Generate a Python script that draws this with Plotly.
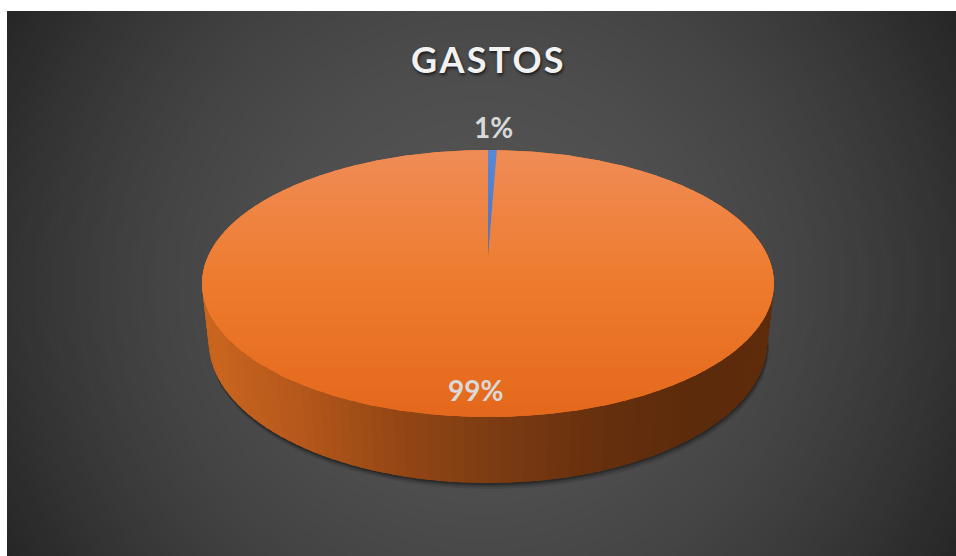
import math
import plotly.graph_objects as go

# ---------------- data ----------------
title_text = "GASTOS"
categories = ["Gasto 1", "Gasto 2"]
values = [0.6, 99.4]
slice_colors = ["#4472C4", "#ED7D31"]

# ---------------- style / geometry ----------------
W, H = 956, 556
ML, MT = 7, 11             # white border left / top of the chart area
CX, CY = 488.0, 258.0      # projected centre of the pie top
AX, BY = 280.7, 128.6      # projected radii
PERSP = 0.191              # perspective strength
DEPTH_Y = 58.6             # thickness (vertical)
DEPTH_D = 0.023            # thickness (perspective)

# top face gradient (top, middle, bottom) per slice
top_grad = [
    [(150, (88, 136, 216)), (283, (68, 114, 196)), (417, (56, 96, 176))],
    [(150, (239, 140, 86)), (283, (238, 123, 45)), (417, (228, 104, 27))],
]
# side shading multipliers across the width (per channel)
side_mult = [(0.0, (0.86, 0.82, 0.64)), (0.17, (0.76, 0.70, 0.55)),
             (0.35, (0.62, 0.56, 0.42)), (0.5, (0.53, 0.48, 0.37)),
             (0.7, (0.43, 0.38, 0.28)), (0.87, (0.385, 0.34, 0.22)),
             (1.0, (0.40, 0.35, 0.23))]


def hex2rgb(h):
    h = h.lstrip("#")
    return tuple(int(h[i:i + 2], 16) for i in (0, 2, 4))


def rgbstr(c, a=None):
    c = tuple(max(0, min(255, int(round(v)))) for v in c)
    if a is None:
        return "rgb(%d,%d,%d)" % c
    return "rgba(%d,%d,%d,%.3f)" % (c + (a,))


def interp(stops, t):
    if t <= stops[0][0]:
        return stops[0][1]
    for (t0, c0), (t1, c1) in zip(stops, stops[1:]):
        if t <= t1:
            f = (t - t0) / (t1 - t0)
            return tuple(a + (b - a) * f for a, b in zip(c0, c1))
    return stops[-1][1]


def proj(r, phi, z):
    u = -r * math.cos(phi)
    xs = r * math.sin(phi)
    den = 1 - PERSP * u + DEPTH_D * z
    return CX + AX * xs / den, CY + (BY * u + DEPTH_Y * z) / den


def clip_y(pts, yv, keep_above):
    out = []
    n = len(pts)
    for i in range(n):
        P = pts[i]
        Q = pts[(i + 1) % n]
        pin = P[1] >= yv if keep_above else P[1] <= yv
        qin = Q[1] >= yv if keep_above else Q[1] <= yv
        if pin:
            out.append(P)
        if pin != qin:
            t = (yv - P[1]) / (Q[1] - P[1])
            out.append((P[0] + t * (Q[0] - P[0]), yv))
    return out


fig = go.Figure()


def add_poly(pts, color):
    xs = [p[0] for p in pts] + [pts[0][0]]
    ys = [p[1] for p in pts] + [pts[0][1]]
    fig.add_trace(go.Scatter(x=xs, y=ys, mode="lines", fill="toself",
                             fillcolor=color, line=dict(width=0, color=color),
                             hoverinfo="skip", showlegend=False))


total = float(sum(values))
bounds = []
acc = 0.0
for v in values:
    a0 = 2 * math.pi * acc / total
    acc += v
    a1 = 2 * math.pi * acc / total
    bounds.append((a0, a1))


def slice_at(phi):
    phi = phi % (2 * math.pi)
    for i, (a0, a1) in enumerate(bounds):
        if a0 <= phi < a1:
            return i
    return len(bounds) - 1


# ---- shadow under the pie ----
bottom = [proj(1, 2 * math.pi * k / 240, 1) for k in range(240)]
for off, alpha in [(6, 0.10), (4, 0.16), (2, 0.25)]:
    add_poly([(x + off * 0.3, y + off) for x, y in bottom], "rgba(0,0,0,%.2f)" % alpha)

# ---- side (walls) ----
deg = math.pi / 180
phis = [60 * deg + k * 2 * deg for k in range(121)]
xl, xr = CX - AX * 1.02, CX + AX * 1.02
side_outline = [proj(1, p, 0) for p in phis] + [proj(1, p, 1) for p in reversed(phis)]
base_mid = hex2rgb(slice_colors[slice_at(math.pi)])
add_poly(side_outline, rgbstr(tuple(b * m for b, m in zip(base_mid, interp(side_mult, 0.5)))))
for p0, p1 in zip(phis, phis[1:]):
    pm = 0.5 * (p0 + p1)
    idx = slice_at(pm)
    xm = proj(1, pm, 0)[0]
    frac = (xm - xl) / (xr - xl)
    mult = interp(side_mult, frac)
    col = rgbstr(tuple(b * m for b, m in zip(hex2rgb(slice_colors[idx]), mult)))
    q1 = p1 + 0.6 * deg
    pts = [proj(1, p0, 0), proj(1, q1, 0), proj(1, q1, 1), proj(1, p0, 1)]
    add_poly(pts, col)

# ---- top face ----
for i, (a0, a1) in enumerate(bounds):
    n = max(3, int((a1 - a0) / deg) + 2)
    arc = [proj(1, a0 + (a1 - a0) * k / (n - 1), 0) for k in range(n)]
    poly = [proj(0, 0, 0)] + arc
    add_poly(poly, rgbstr(interp(top_grad[i], 283)))
    ys = [p[1] for p in poly]
    y0 = min(ys)
    ymax = max(ys)
    step = 5.0
    while y0 < ymax:
        band = clip_y(clip_y(poly, y0, True), y0 + step + 1.0, False)
        if len(band) >= 3:
            add_poly(band, rgbstr(interp(top_grad[i], y0 + step / 2)))
        y0 += step

# ---- background radial gradient ----
shapes = []
BGX, BGY = 482.0, 284.0
r = 580
while r > 0:
    lv = 84 - 46 * (r / 548.0) ** 2
    lv = max(36, lv)
    shapes.append(dict(type="circle", xref="x", yref="y", layer="below",
                       x0=BGX - r, x1=BGX + r, y0=BGY - r, y1=BGY + r,
                       fillcolor=rgbstr((lv, lv, lv)), line=dict(width=0)))
    r -= 6

# ---- labels ----
annotations = []
for i, ((a0, a1), v) in enumerate(zip(bounds, values)):
    pct = "%d%%" % round(v / total * 100)
    mid = 0.5 * (a0 + a1)
    if v / total < 0.05:
        lx, ly = proj(1.27, mid, 0)
    else:
        lx, ly = proj(0.86, mid, 0)
        lx -= 7
    annotations.append(dict(x=lx, y=ly, xref="x", yref="y", text=pct, showarrow=False,
                            xanchor="center", yanchor="middle",
                            font=dict(family="Lato", size=28, color="#d9d9d9", weight=700)))

annotations.append(dict(x=487.5, y=59, xref="x", yref="y",
                        text="\u200a".join(title_text), showarrow=False,
                        xanchor="center", yanchor="middle",
                        font=dict(family="Lato", size=36, color="#f2f2f2", weight=700,
                                  shadow="1px 2px 3px rgba(0,0,0,0.65)")))

fig.update_layout(
    width=W, height=H, autosize=False,
    margin=dict(l=ML, r=0, t=MT, b=0, pad=0),
    paper_bgcolor="white", plot_bgcolor="#262626",
    xaxis=dict(range=[ML, W], visible=False, fixedrange=True),
    yaxis=dict(range=[H, MT], visible=False, fixedrange=True),
    shapes=shapes, annotations=annotations, showlegend=False,
)

fig.write_html(
    "out.html",
    config={"displayModeBar": False, "staticPlot": True},
    post_script="document.body.style.margin='0';document.body.style.overflow='hidden';",
)
